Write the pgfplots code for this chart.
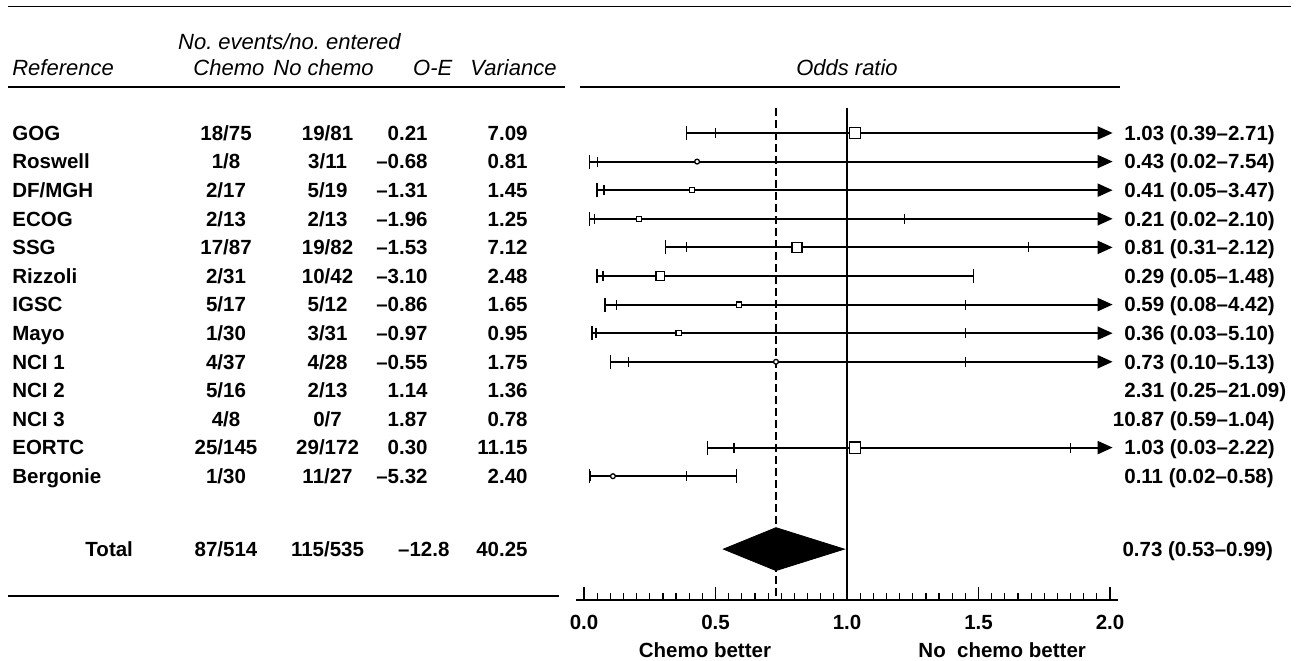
\documentclass[border=0pt]{standalone}
\usepackage{fontspec}
\setmainfont{Liberation Sans}
\usepackage{pgfplots}
\pgfplotsset{compat=1.18}
\usetikzlibrary{arrows.meta}

\begin{document}
\begin{tikzpicture}[
  tx/.style={font=\bfseries\fontsize{10.25}{12}\selectfont, inner sep=0pt, yshift=-3.65pt},
  hd/.style={font=\itshape\fontsize{11}{13}\selectfont, inner sep=0pt, yshift=-3.9pt},
  rule/.style={line width=0.6pt},
]
\begin{axis}[
  x=131.5pt, y=14.3pt,
  xmin=-0.03, xmax=2.03, ymin=-16.33, ymax=0.87,
  enlargelimits=false, clip=false,
  axis x line*=bottom, axis y line=none, ytick=\empty,
  xtick={0,0.5,1,1.5,2}, xticklabels={0.0,0.5,1.0,1.5,2.0},
  minor x tick num=9,
  tick align=inside,
  major tick length=6.5pt, minor tick length=3.5pt,
  tick style={black, line width=0.6pt},
  axis line style={line width=0.65pt},
  xticklabel style={font=\bfseries\fontsize{10.25}{12}\selectfont, anchor=base, yshift=-14.7pt, inner sep=0pt},
  ci/.style={black, line width=1pt, mark=none},
  arr/.style={ci, -{Triangle[length=7.5pt,width=6.5pt]}},
  box/.style={only marks, mark=square*, mark options={fill=white, draw=black, line width=0.65pt}},
  dot/.style={only marks, mark=*, mark options={fill=white, draw=black, line width=0.65pt}},
]
% reference lines: no effect and pooled odds ratio
\addplot[black, line width=0.7pt] coordinates {(1,0.87) (1,-16.33)};
\addplot[black, line width=0.7pt, dash pattern=on 4pt off 2pt] coordinates {(0.73,0.87) (0.73,-16.33)};

% confidence intervals (arrow = runs off the scale)
\addplot[arr] coordinates {(0.39,0) (2.01,0)};     % GOG
\addplot[arr] coordinates {(0.02,-1) (2.01,-1)};   % Roswell
\addplot[arr] coordinates {(0.05,-2) (2.01,-2)};   % DF/MGH
\addplot[arr] coordinates {(0.02,-3) (2.01,-3)};   % ECOG
\addplot[arr] coordinates {(0.31,-4) (2.01,-4)};   % SSG
\addplot[ci]  coordinates {(0.05,-5) (1.48,-5)};   % Rizzoli
\addplot[arr] coordinates {(0.08,-6) (2.01,-6)};   % IGSC
\addplot[arr] coordinates {(0.03,-7) (2.01,-7)};   % Mayo
\addplot[arr] coordinates {(0.10,-8) (2.01,-8)};   % NCI 1
\addplot[arr] coordinates {(0.47,-11) (2.01,-11)}; % EORTC
\addplot[ci]  coordinates {(0.02,-12) (0.58,-12)}; % Bergonie

% end caps
\addplot[only marks, mark=|, mark size=3.5pt, mark options={line width=0.7pt}] coordinates {
  (0.39,0) (0.02,-1) (0.05,-2) (0.02,-3) (0.31,-4) (0.05,-5) (1.48,-5)
  (0.08,-6) (0.03,-7) (0.10,-8) (0.47,-11) (0.02,-12) (0.58,-12)};
% inner ticks
\addplot[only marks, mark=|, mark size=2.5pt, mark options={line width=0.6pt}] coordinates {
  (0.50,0) (0.05,-1) (0.076,-2) (0.04,-3) (1.22,-3) (0.39,-4) (1.69,-4)
  (0.072,-5) (0.125,-6) (1.45,-6) (0.046,-7) (1.45,-7) (0.17,-8) (1.45,-8)
  (0.57,-11) (1.85,-11) (0.025,-12) (0.39,-12)};

% point estimates
\addplot[box, mark size=2.8pt]  coordinates {(1.03,0) (1.03,-11)};
\addplot[box, mark size=2.5pt]  coordinates {(0.81,-4)};
\addplot[box, mark size=2.1pt]  coordinates {(0.29,-5)};
\addplot[box, mark size=1.3pt]  coordinates {(0.41,-2) (0.21,-3) (0.59,-6) (0.36,-7)};
\addplot[dot, mark size=1.2pt]  coordinates {(0.43,-1) (0.73,-8) (0.11,-12)};

% pooled estimate
\addplot[fill=black, draw=black] coordinates {(0.53,-14.55) (0.73,-13.8) (0.99,-14.55) (0.73,-15.3)} -- cycle;

\coordinate (O) at (axis cs:0,0);
\end{axis}

\begin{scope}[shift={(O)}, x=131.5pt, y=14.3pt]
  \path (-2.2205,4.65) rectangle (2.7262,-18.43);
  % rules
  \draw[rule] (-2.19,4.41) -- (2.69,4.41);
  \draw[rule] (-2.19,1.61) -- (-0.072,1.61);
  \draw[rule] (-0.015,1.61) -- (2.038,1.61);
  \draw[rule] (-2.19,-16.19) -- (-0.095,-16.19);
  % headers
  \node[hd, anchor=base] at (-1.12,3.18) {No.\ events/no.\ entered};
  \node[hd, anchor=base west] at (-2.175,2.3) {Reference};
  \node[hd, anchor=base] at (-1.35,2.3) {Chemo};
  \node[hd, anchor=base] at (-0.99,2.3) {No chemo};
  \node[hd, anchor=base] at (-0.575,2.3) {O-E};
  \node[hd, anchor=base east] at (-0.103,2.3) {Variance};
  \node[hd, anchor=base] at (1.0,2.3) {Odds ratio};
  % table rows
  \foreach \y/\n/\ca/\cb/\na/\nb/\oe/\v/\r in {
    0/GOG/18/75/19/81/0.21/7.09/1.03 (0.39–2.71),
    -1/Roswell/1/8/3/11/–0.68/0.81/0.43 (0.02–7.54),
    -2/DF\slash MGH/2/17/5/19/–1.31/1.45/0.41 (0.05–3.47),
    -3/ECOG/2/13/2/13/–1.96/1.25/0.21 (0.02–2.10),
    -4/SSG/17/87/19/82/–1.53/7.12/0.81 (0.31–2.12),
    -5/Rizzoli/2/31/10/42/–3.10/2.48/0.29 (0.05–1.48),
    -6/IGSC/5/17/5/12/–0.86/1.65/0.59 (0.08–4.42),
    -7/Mayo/1/30/3/31/–0.97/0.95/0.36 (0.03–5.10),
    -8/NCI 1/4/37/4/28/–0.55/1.75/0.73 (0.10–5.13),
    -9/NCI 2/5/16/2/13/1.14/1.36/2.31 (0.25–21.09),
    -10/NCI 3/4/8/0/7/1.87/0.78/\llap{1}0.87 (0.59–1.04),
    -11/EORTC/25/145/29/172/0.30/11.15/1.03 (0.03–2.22),
    -12/Bergonie/1/30/11/27/–5.32/2.40/0.11 (0.02–0.58)} {
    \node[tx, anchor=base west] at (-2.175,\y) {\n};
    \node[tx, anchor=base] at (-1.361,\y) {\ca/\cb};
    \node[tx, anchor=base] at (-0.975,\y) {\na/\nb};
    \node[tx, anchor=base east] at (-0.593,\y) {\oe};
    \node[tx, anchor=base east] at (-0.213,\y) {\v};
    \node[tx, anchor=base west] at (2.053,\y) {\r};
  }
  % total row
  \node[tx, anchor=base west] at (-1.897,-14.55) {Total};
  \node[tx, anchor=base] at (-1.361,-14.55) {87/514};
  \node[tx, anchor=base] at (-0.975,-14.55) {115/535};
  \node[tx, anchor=base east] at (-0.51,-14.55) {–12.8};
  \node[tx, anchor=base east] at (-0.213,-14.55) {40.25};
  \node[tx, anchor=base west] at (2.046,-14.55) {0.73 (0.53–0.99)};
  % axis captions
  \node[tx, anchor=base] at (0.46,-18.08) {Chemo better};
  \node[tx, anchor=base] at (1.59,-18.08) {No\ \ chemo better};
\end{scope}
\end{tikzpicture}
\end{document}
